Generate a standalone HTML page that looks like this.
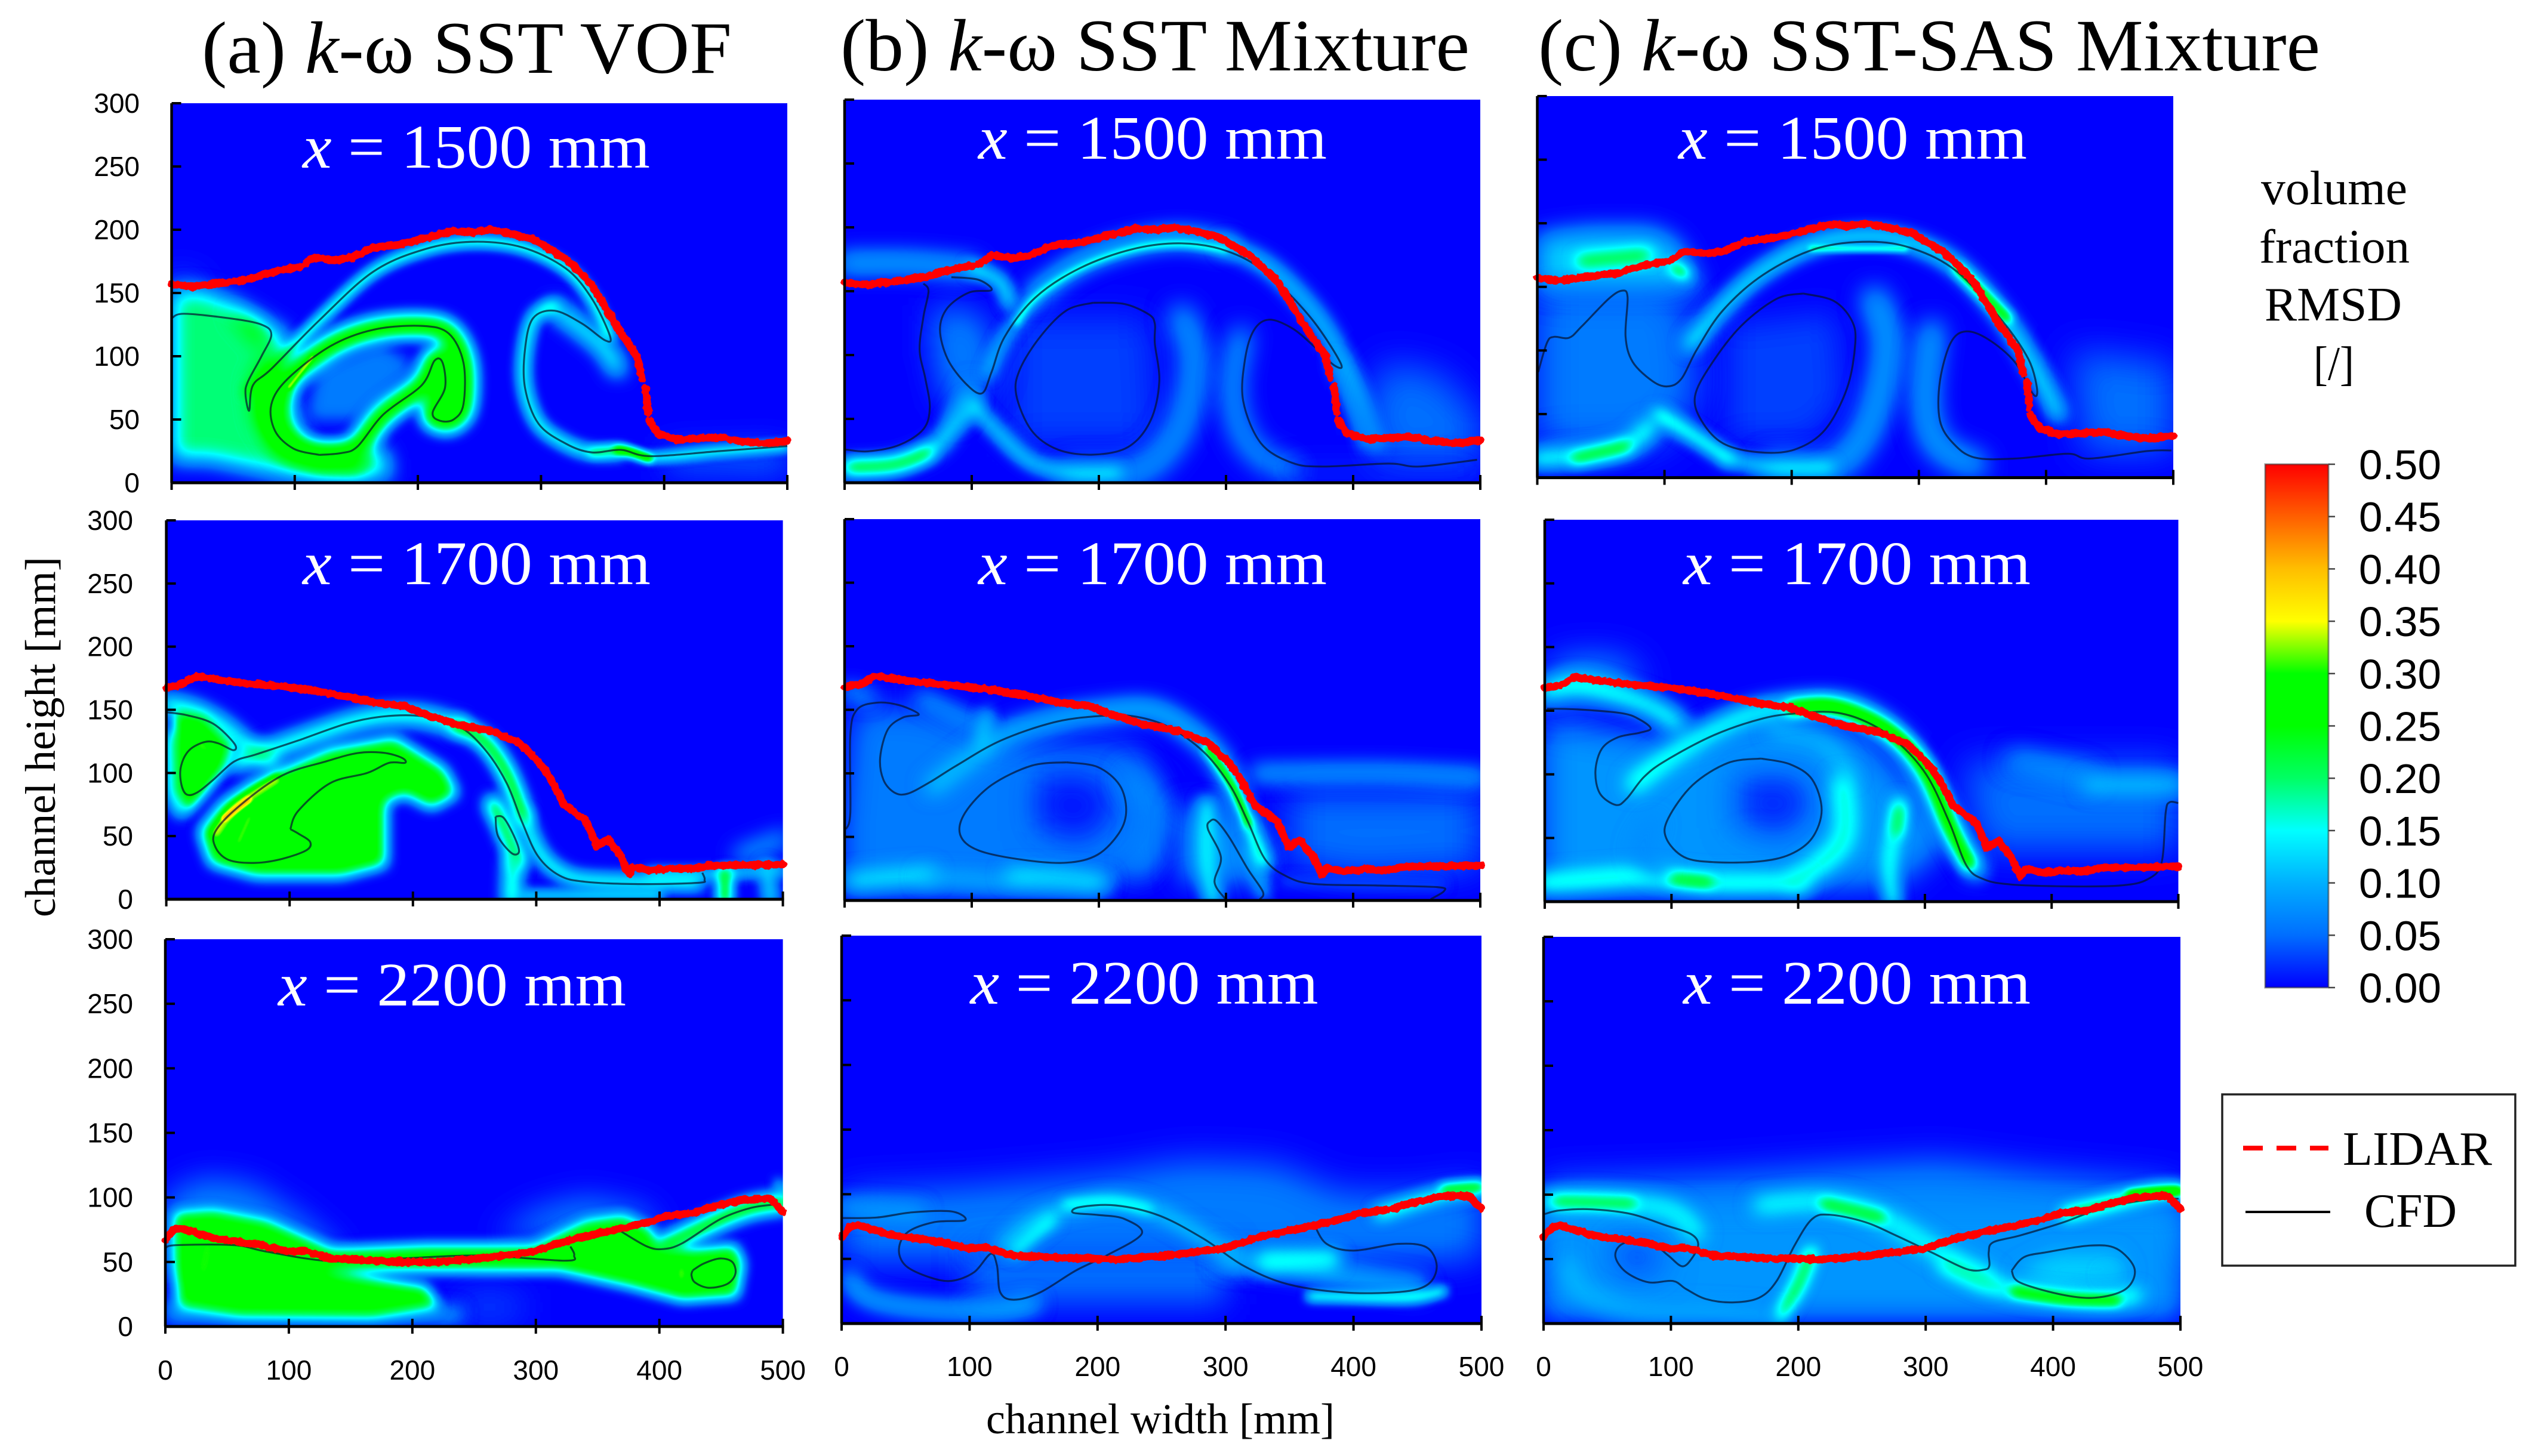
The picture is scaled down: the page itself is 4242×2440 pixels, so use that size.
<!DOCTYPE html>
<html lang="en">
<head>
<meta charset="utf-8">
<title>Volume fraction RMSD contours</title>
<style>
html,body{margin:0;padding:0;background:#fff}
svg{display:block}
.serif{font-family:"Liberation Serif","Noto Serif CJK SC",serif;fill:#000}
.sans{font-family:"Liberation Sans","Noto Sans CJK SC",sans-serif;fill:#000}
.ptitle{font-size:124px}
.plabel{font-size:104px;fill:#fff}
.tick{font-size:46px}
.cbt{font-size:70px}
.cbh{font-size:80px}
</style>
</head>
<body>
<svg id="chart" xmlns="http://www.w3.org/2000/svg" width="4242" height="2440" viewBox="0 0 4242 2440">
  <rect width="4242" height="2440" fill="#fff"/>
  <defs id="defs"></defs>
  <g id="panels"></g>

  <text class="serif ptitle" x="338" y="122" textLength="888" lengthAdjust="spacingAndGlyphs">(a) <tspan font-style="italic">k</tspan>-ω SST VOF</text>
  <text class="serif ptitle" x="1408" y="118" textLength="1054" lengthAdjust="spacingAndGlyphs">(b) <tspan font-style="italic">k</tspan>-ω SST Mixture</text>
  <text class="serif ptitle" x="2577" y="118" textLength="1310" lengthAdjust="spacingAndGlyphs">(c) <tspan font-style="italic">k</tspan>-ω SST-SAS Mixture</text>

  <text class="serif" font-size="72" transform="translate(92,1537) rotate(-90)" textLength="604" lengthAdjust="spacingAndGlyphs">channel height [mm]</text>
  <text class="serif" font-size="72" x="1652" y="2402" textLength="584" lengthAdjust="spacingAndGlyphs">channel width [mm]</text>

  <g>
    <text class="serif cbh" x="3788" y="342" textLength="245" lengthAdjust="spacingAndGlyphs">volume</text>
    <text class="serif cbh" x="3785" y="440" textLength="252" lengthAdjust="spacingAndGlyphs">fraction</text>
    <text class="serif cbh" x="3794" y="537" textLength="230" lengthAdjust="spacingAndGlyphs">RMSD</text>
    <text class="serif cbh" x="3876" y="636" textLength="68" lengthAdjust="spacingAndGlyphs">[/]</text>
  </g>
  <g id="colorbar"></g>

  <g>
    <rect x="3723" y="1834" width="491" height="287" fill="#fff" stroke="#222" stroke-width="3.5"/>
    <line x1="3758" y1="1924" x2="3901" y2="1924" stroke="#ff0000" stroke-width="8" stroke-dasharray="33 23"/>
    <text class="serif" font-size="80" x="3925" y="1952" textLength="250" lengthAdjust="spacingAndGlyphs">LIDAR</text>
    <line x1="3762" y1="2031" x2="3904" y2="2031" stroke="#000" stroke-width="4"/>
    <text class="serif" font-size="80" x="3961" y="2056" textLength="155" lengthAdjust="spacingAndGlyphs">CFD</text>
  </g>
</svg>

<script>
/* ---------- axis data ---------- */
const xTicks = [0,100,200,300,400,500];
const yTicks = [0,50,100,150,200,250,300];
const cbarTicks = ['0.00','0.05','0.10','0.15','0.20','0.25','0.30','0.35','0.40','0.45','0.50'];
const cbarR = [0,0,0,0,0,0,0,255,255,255,255];
const cbarG = [0,110,175,255,255,255,255,255,190,95,0];
const cbarB = [255,255,255,255,100,0,0,0,0,0,0];

/* ---------- LIDAR free-surface traces, [mm, mm] ---------- */
const lidar1500 = [
 [0,157,18,155,34,157,64,161,76,165,90,168,105,171,116,178,131,176,146,178,164,186,184,188,203,192.5,229,199,245,198,259,200,275,197,294,192.5,320,177,341,157,363,121,378,100,382,82],
 [385,75,387,55],
 [388,49,395,39,410,34,425,35,445,36,460,33,480,31,500,33]];
const lidar1700 = [
 [0,167.6,12,170,24,176.5,51,172.5,75,170,98.5,168,133,163,168,156,194,152.5,211,146,237,138,263,133.5,286.5,123.5,301.6,109,310,98,323,74.5,340.5,62,349,42,358,47.7,369,34,375,20,379,25.4,392,23,410,24.5,427,24,440,26.5,470,27,500,27.6]];
const lidar2200 = [
 [0,67,6.5,75,13,76,39,68.4,78,63,99,58,112,59,134,52.7,177,50.6,216,49.6,254.5,52.7,298,58,323.5,66,345,71,369,76,388,80,405.5,85.5,427,88,444,93,466,98,490,99,500,89]];

/* ---------- CFD interface contours, [mm, mm] ---------- */
const cfdA1500 = [
 [0,130,10,133.6,47,130,73,125,81,117,73,100,62,80,60,70,63,57,66,77,81,90,120,128.5,164,167,207,185,246,190.5,285,186,320,169.5,341,146,356,116,352,112.6,333,126,311,136,293.5,130,287,105.5,287,75,298,46.6,320,31,341,24,365,26,389,21,445,25,500,29],
 [120,22,99,27,84,41,81,62,94.5,82.4,129,108,164,121,203,124,225,118,237,95,237,62,229,50,218,49,212,55.5,222,75,220,95,213.5,96.5,203,77,172,54,151,28.7,138,23.5,120,22]];
const cfdA1700 = [
 [0,148,16.4,145.8,38,139,55,123.5,54.4,118,42,123.5,31.5,124.6,18.6,118,12,105.6,12,92,16.4,83,25,84.5,38,94.5,55,109,72.6,114.6,107,125.7,146,139,176,144.7,206.5,145,237,137,258,119,276,92,288.6,61,301.5,34,319,18.7,340,13.8,383.6,12,431,13,436.5,15.4,434.7,21],
 [100.6,55.5,107,70,133,92,163,100,180.6,108,193.5,108,191,112,176,116,155,115.7,129,109,94,98,60,74.5,40,54,40,41,51,31,72.6,28.8,94,32,113.6,38.8,116.6,45.5,107,52,100.6,55.5],
 [267,65.5,273.6,64.4,282,50,286,37.7,280,36.5,269,50,267,65.5]];
const cfdA2200 = [
 [0,60.6,8.6,63,56,63,82,58,134,50.6,190,52.7,254.5,55,323.5,51,331,55,328,62],
 [369,73.7,390,62,403,60,418.5,64.5,449,83,474.5,92,496,94.7],
 [427,43.5,436,48.8,449,52.7,459,50,461.6,41,455,33,440,30,429,34,426,39.6,427,43.5]];
const cfdB1500 = [
 [1,26,18.4,24.6,43,29.6,62,42,67,59,63.5,81.6,59,104,62,130,66,150,62,156],
 [84,161,105,159,115.6,151,98,149,81,137,75,120,81,97,95,78,108,70,115.6,86.7,126,114.5,150,145,185,168,226.7,183,265,187.5,300,181.7,331,165,366,130,390,94,385,92,369,107,352,121,334,127.7,322,119.6,315,96.8,313.5,64,327.4,31,351.7,15.7,376,12.7,428,15,452,12.7,497.5,18],
 [195.5,141,220,140,239,132,244,124.7,244,109.5,247.5,79,240.6,48.6,223,28,195.5,22,167.7,26,147,41,135,69,138,89,154,114.5,174.6,135,195.5,141]];
const cfdB1700 = [
 [1,56,4.5,69,4.5,130,9.7,150,25,155.6,42.7,153.7,58.3,146.5,46,144,34,134.5,28,112.6,30.5,95,39,85,49.6,84,67,93,87.8,106,122.6,125.7,164,140,199,145,226.7,145,254.5,136.7,282.3,117,303,90.8,317,62.4,331,32,348,18.8,369,13,417.7,11.8,466,10.5,471.5,7.4,461,1],
 [174.6,108.7,199,105,216.3,90.8,221.5,71,216.3,53.7,199,36,174.6,29.7,140,32,105,39.5,91,51.5,94.8,69,115.6,90.8,147,106,174.6,108.7],
 [299.6,1,291,14.4,296,34,285.8,56,287.5,62.4,292.7,62.4,303,49,317,25,329,6.8,326.6,1]];
const cfdB2200 = [
 [0,81.6,27.6,82,55,86,86,86.7,96.5,80,72.4,78.4,51.7,70.7,44.8,57.7,50,44.8,69,35.7,86,33,103.4,39.6,116.5,53.9,121.4,44.8,124,24,134.5,18.4,155,24,183,41,207,52.6,234.5,69.4,220.7,81,200,84,181,85.7,186,90,213.8,91.4,248,83.6,283,65.5,313.8,44.8,348,30.6,393,24,438,24.6,458.6,30.6,465,44.8,457,59,434.8,61.6,400,56.4,379,61.6,369.6,75.9]];
const cfdC1500 = [
 [0.7,83,7.6,106,13,110.7,25,110,35,119,56,140.5,66.6,147,71,141.8,69.4,111,75,91,91,75.6,103,71.8,113.5,78,125.6,101,146,131.6,177.7,159.6,219,180,261,185.5,295.6,180,330,162,365,124,386,93.4,392.8,70.5,390,65.4,375.4,90.9,354.6,108.7,337,115,325,106,316.5,75.6,316.5,45,327,27,344,15.8,375.4,15,417,18.8,434.4,15,479.6,20.9,498.6,21.4],
 [209,144.8,233,139,247,124,250,106,243.6,70.5,226,37.4,202,22,174,20,146,27,129,45,124,64,136,88,160,119,188,140.5,209,144.8]];
const cfdC1700 = [
 [1.7,151.6,26,151,61,148,75,143,83.6,136,75,132.7,57.5,129,45,120,40,102.5,43.5,85,56,76,64.5,80.7,78.4,98,95.8,111,134,131,172.5,144,200,148,228,148.8,252.6,141.8,277,126.6,301,100,319,63,333,28,346.7,17.5,367.6,13.5,413,12,454.6,12.7,475.6,17.5,486.7,30.5,490,70,493,78,500,77.5],
 [170.7,112.4,193.4,108,211,96,218.5,72,211,50,193.4,37,169,31.6,134,31,110,35,95.8,50,97.5,65.5,116.7,91.6,144.6,109,170.7,112.4]];
const cfdC2200 = [
 [1,85,13,87.8,37.4,88.6,68.6,85,96.4,76,115.4,69.6,121.4,61.8,117,51.4,109,44.4,98,52.7,86,61.8,72,64.4,60,60.5,56.5,51.4,65,39.7,82.5,32,101.6,33,112,26.7,127.6,19,148.4,16.4,169.2,20,183,33,197,60.5,210.8,81,224.7,84.4,252.4,78.7,276.7,68.3,304.4,55.3,332,42.3,346,41.8,350,45,349.5,55.3,353,63,374,68.3,408.6,78.7,436.3,89,460.4,94,484.7,96.9,498.6,96.9],
 [367.5,41,377,51.4,394.6,55.3,429,60.5,450,58,464,42.3,457,26.7,432.7,20,405,22.8,373.7,32,367.5,41]];

/* ---------- RMSD field features: [value, ridge thickness mm (0 = area), spread mm, [mm, mm, ...]] ---------- */
const fieldA1500 = [
 [.05,0,6,[400,25,500,28,500,8,400,10]],
 [.07,0,6,[0,165,15,160,30,150,0,150]],
 [.195,0,4,[0,152,25,152,52,142,92,118,96,92,95,60,108,32,135,18,165,30,176,18,176,4,100,4,60,12,30,18,0,18]],
 [.27,0,3.5,[46,136,72,124,76,100,64,78,68,50,85,24,120,8,155,6,160,24,110,25,92,45,94,72,86,92]],
 [.06,0,3,[110,50,150,50,198,92,170,110,120,92]],
 [.27,18,2.6,[120,22,99,27,84,41,81,62,94.5,82.4,129,108,164,121,203,124,225,118,237,95,237,62,229,50,218,49,212,55.5,222,75,220,95,213.5,96.5,203,77,172,54,151,28.7,138,23.5,120,22]],
 [.17,6,2,[62,72,81,90,120,128.5,164,167,207,185,246,190.5,285,186,320,169.5,341,146,356,116]],
 [.14,10,3.5,[311,138,333,122,352,106,362,90]],
 [.16,6,2.4,[311,140,295,132,287,105,287,75,298,46.6,320,31,341,24,365,24]],
 [.15,5,1.8,[341,24,365,26,389,20,445,25,500,29]],
 [.25,5,1.3,[362,26,375,24,388,19]],
 [.32,2.5,.7,[95,75,115,100]]
];
const fieldA1700 = [
 [.15,12,3,[0,155,22,150,45,138,65,122,85,110]],
 [.14,6,2.5,[4,130,5,85,12,68]],
 [.27,0,2.2,[7,150,30,145,54,122,48,104,30,82,17,68,7,85,6,120]],
 [.29,6,1.6,[25,125,33,118]],
 [.16,12,3,[55,109,72,114,107,126,146,139,176,145,206,145,237,137]],
 [.27,0,2.6,[72.6,94,133,119,185,128,226,103,236,83,215,72,193.5,83,178,77,178,27,142,18,72.6,18,36,28,27,54,45,76]],
 [.33,7,1.2,[40,52,55,72,75,86,90,95]],
 [.37,3.5,.8,[47,64,67,79]],
 [.2,3,1.1,[58,44,68,66]],
 [.22,11,2.6,[237,137,258,125,276,100,290,65]],
 [.15,9,2.6,[290,65,302,38,319,22,345,15,431,13]],
 [.2,13,2.6,[265,75,275,55,285,30]],
 [.16,14,2.6,[281,30,280,0]],
 [.13,6,2,[290,3,400,3]],
 [.12,6,2.2,[392,20,436,20,500,23]],
 [.08,10,4,[465,35,500,48]],
 [.21,12,2,[453,20,453,0]],
 [.11,12,2.2,[487,25,490,0]]
];
const fieldA2200 = [
 [.06,0,6,[0,100,30,115,70,110,110,85,140,60,140,40,0,40]],
 [.06,0,6,[265,70,300,90,340,100,390,90,400,70]],
 [.05,0,7,[235,22,290,22,290,8,235,8]],
 [.08,0,3,[0,20,240,15,240,3,0,3]],
 [.265,0,2.4,[7,88,39,90,82,82,134,60,211,63,298,63,341,82,371,86,392.6,76,401,62,427,60,461.6,63,468,49,463,23,418.5,20,375,31,319,43,125,43.5,211,31,222,15,168,7,60,8,11,15,7,49]],
 [.22,14,2.6,[405,63,449,83,474,92,500,96]],
 [.11,4,2,[496,112,500,104]],
 [.295,16,3,[30,40,35,65]],
 [.295,7,2,[418,36,418,46]],
 [.17,7,2.5,[446,42,448,42]]
];
const fieldB1500 = [
 [.03,0,7,[130,130,240,130,245,30,130,30]],
 [.06,0,6,[70,140,110,130,118,90,100,60,80,60,70,100]],
 [.09,14,4,[0,172,50,172,100,168]],
 [.13,7,2.5,[100,168,122,158,130,140]],
 [.1,5,2.5,[112,85,126,114,150,145]],
 [.1,14,3.5,[150,148,185,172,227,187,265,192,300,186]],
 [.15,4,1.2,[135,125,150,145,185,168,227,183,265,187,300,182]],
 [.11,10,3,[300,186,335,168,370,132,392,95,408,60,420,30]],
 [.08,8,2.6,[385,95,400,60,410,30]],
 [.08,18,4.5,[265,130,275,100,270,60,255,28,228,8,178,6]],
 [.12,7,2.6,[100,62,122,38,147,16,178,8,215,8]],
 [.13,10,3,[0,12,40,15,70,27,88,48,100,62]],
 [.175,8,2.5,[4,12,40,14,66,24]],
 [.08,10,3.5,[88,50,100,75]],
 [.08,14,4.5,[312,115,305,75,312,40,328,20,352,10]],
 [.05,0,7,[425,95,470,85,500,50,500,15,420,15,410,60]],
 [.03,0,5,[350,12,500,12,500,5,350,5]]
];
const fieldB1700 = [
 [.06,0,6,[8,150,60,150,100,135,120,125,230,120,250,80,240,20,120,8,0,8,0,60]],
 [.01,0,6,[150,100,200,100,215,70,190,45,150,55]],
 [.08,8,3.5,[0,165,20,160]],
 [.08,8,3.5,[60,160,110,135]],
 [.1,8,2.6,[112,147,108,121]],
 [.1,14,3.5,[70,90,122,128,164,142,199,148,240,150,270,135,295,110,315,65,330,30]],
 [.07,18,4.5,[227,95,244,69,234,30]],
 [.12,12,3.5,[5,15,35,18,66,20]],
 [.09,10,3.5,[63,18,130,14,200,10]],
 [.11,8,3.5,[130,20,171,19,205,15]],
 [.08,0,5,[265,75,310,65,325,15,265,15]],
 [.13,12,2.6,[285,75,285,30,290,0]],
 [.1,7,2.6,[318,40,330,5]],
 [.23,5,1.4,[285,120,305,90,318,60]],
 [.15,6,2,[318,60,330,30]],
 [.05,0,7,[350,85,500,85,500,25,400,20,350,30]],
 [.08,12,3.5,[325,100,420,101,500,97]],
 [.04,6,2.2,[345,15,470,12]]
];
const fieldB2200 = [
 [.06,0,7,[0,100,100,105,210,115,270,125,340,122,390,100,450,100,500,108,500,50,0,50]],
 [.05,0,6,[100,60,300,60,300,15,100,15]],
 [.08,10,3.5,[0,90,60,86]],
 [.1,8,3.5,[5,35,20,20,60,12,120,10,150,15]],
 [.1,10,3,[125,60,150,80,180,90,215,95,250,85,285,65,310,50]],
 [.13,6,2,[175,92,210,94,240,88]],
 [.13,7,2.6,[135,55,152,70,165,80]],
 [.09,16,3.5,[300,50,350,45,400,35,450,28]],
 [.145,14,3,[331,48,383,50]],
 [.15,6,1.8,[366,21,440,20,470,25]],
 [.15,8,2.6,[420,85,470,100,500,104]],
 [.18,5,1.8,[470,104,500,106]]
];
const fieldC1500 = [
 [.06,0,8,[0,150,115,150,125,60,90,25,0,25]],
 [.03,0,6,[150,120,235,130,240,60,215,30,150,30]],
 [.12,0,4.5,[0,190,40,195,90,195,110,185,120,165,130,150,100,150,60,150,0,150]],
 [.175,10,2.6,[35,170,85,175]],
 [.18,8,2.2,[108,165,116,160]],
 [.13,10,3,[120,105,146,135,178,163,219,184,261,190,296,184,330,166,365,128,392,85,410,50]],
 [.21,6,1.7,[330,165,370,125]],
 [.16,3,1,[215,180,290,180]],
 [.09,18,4.5,[265,140,275,110,270,70,255,30,230,8,185,8]],
 [.12,7,2.6,[150,15,185,8,230,8]],
 [.16,8,2.6,[95,50,120,35,150,15]],
 [.14,14,3,[0,15,40,18,70,25,88,40]],
 [.175,8,2.2,[30,15,70,25]],
 [.09,16,4.5,[310,115,305,60,315,25,345,10]],
 [.05,0,7,[420,100,500,90,500,20,430,20]]
];
const fieldC1700 = [
 [.08,0,6,[0,140,100,125,170,145,250,130,320,50,280,15,120,8,0,8]],
 [.02,0,6,[150,102,205,102,215,70,190,48,150,58]],
 [.08,0,7,[10,190,60,190,80,170,0,155]],
 [.15,12,3.5,[0,165,30,170,80,155,105,140]],
 [.09,8,3.5,[180,135,220,125,240,100]],
 [.145,12,3.5,[70,92,96,112,134,135,172,150,228,155,265,140,290,115,310,80,325,50,340,25]],
 [.25,9,2.2,[195,152,228,153,270,135,300,105,320,60,335,30]],
 [.15,16,3.5,[235,92,235,48,200,17]],
 [.15,16,3,[0,15,40,18,80,20,130,15,200,15]],
 [.165,6,2.2,[100,18,130,15]],
 [.07,14,3.5,[85,60,75,40,90,25]],
 [.14,10,2.6,[280,78,272,30,275,0]],
 [.16,8,2.2,[280,72,278,55]],
 [.05,0,7,[330,110,500,110,500,40,345,40]],
 [.08,10,4.5,[370,112,430,98]],
 [.1,12,3.5,[430,92,500,92]]
];
const fieldC2200 = [
 [.07,0,7,[0,108,120,112,230,120,310,125,390,115,500,105,500,50,0,50]],
 [.08,0,5,[0,90,500,90,500,5,0,5]],
 [.03,0,6,[50,65,90,65,95,40,60,35]],
 [.13,12,3.5,[0,95,50,95,100,88,120,70]],
 [.165,7,2.2,[10,95,70,93]],
 [.13,12,3.5,[170,92,220,95,260,85,295,65,320,50,350,35]],
 [.175,7,2.2,[220,93,265,82]],
 [.18,8,2.6,[210,55,200,30,185,5]],
 [.09,12,3.5,[20,45,30,25,70,10,130,8,180,5]],
 [.12,0,3.5,[370,40,400,55,450,55,460,40,450,30,400,28]],
 [.08,6,2.6,[440,38,445,38]],
 [.14,10,3,[315,45,350,30,390,22,440,18,465,22]],
 [.2,6,1.8,[370,25,410,19,450,18]],
 [.18,8,2.6,[410,85,450,95,480,102,500,103]],
 [.25,4,1.4,[460,100,500,103]]
];

/* ---------- layout: which data goes in which panel, and where ---------- */
const panels = [
 {key:'a-1500',col:0,row:0,box:[287.5,1319,173,809],label:'1500',lx:[507,582],ly:281,lidar:lidar1500,cfd:cfdA1500,field:fieldA1500},
 {key:'a-1700',col:0,row:1,box:[278.6,1311.6,872,1507],label:'1700',lx:[507,583],ly:979,lidar:lidar1700,cfd:cfdA1700,field:fieldA1700},
 {key:'a-2200',col:0,row:2,box:[277,1311.6,1574,2223],label:'2200',lx:[466,583],ly:1685,lidar:lidar2200,cfd:cfdA2200,field:fieldA2200},
 {key:'b-1500',col:1,row:0,box:[1415,2480,167,809],label:'1500',lx:[1639,584],ly:266,lidar:lidar1500,cfd:cfdB1500,field:fieldB1500},
 {key:'b-1700',col:1,row:1,box:[1415,2480,870,1509],label:'1700',lx:[1639,584],ly:979,lidar:lidar1700,cfd:cfdB1700,field:fieldB1700},
 {key:'b-2200',col:1,row:2,box:[1410,2482,1568,2218],label:'2200',lx:[1625.5,583],ly:1682,lidar:lidar2200,cfd:cfdB2200,field:fieldB2200},
 {key:'c-1500',col:2,row:0,box:[2575.5,3641,161,800.5],label:'1500',lx:[2812,584],ly:266,lidar:lidar1500,cfd:cfdC1500,field:fieldC1500},
 {key:'c-1700',col:2,row:1,box:[2588,3649.5,871,1511],label:'1700',lx:[2820,582],ly:979,lidar:lidar1700,cfd:cfdC1700,field:fieldC1700},
 {key:'c-2200',col:2,row:2,box:[2586,3653,1570,2218],label:'2200',lx:[2820,582],ly:1682,lidar:lidar2200,cfd:cfdC2200,field:fieldC2200}
];
const yLabelRight = [234,223,223];
const xLabelBase = [2312,2306,2306];
const spreadGain = 2.1;

/* ---------- helpers ---------- */
const NS = 'http://www.w3.org/2000/svg';
const defs = document.getElementById('defs');
const root = document.getElementById('panels');
function mk(tag, attrs, parent){
  const el = document.createElementNS(NS, tag);
  for (const k in attrs) el.setAttribute(k, attrs[k]);
  if (parent) parent.appendChild(el);
  return el;
}
function pairs(flat, X, Y){
  const out = [];
  for (let i = 0; i < flat.length; i += 2) out.push([X(flat[i]), Y(flat[i+1])]);
  return out;
}
function linePath(pts){
  return pts.map((p,i)=>(i?'L':'M')+p[0].toFixed(1)+' '+p[1].toFixed(1)).join('');
}
function smoothPath(pts){
  let d = 'M'+pts[0][0].toFixed(1)+' '+pts[0][1].toFixed(1);
  for (let i = 0; i < pts.length-1; i++){
    const p0 = pts[Math.max(i-1,0)], p1 = pts[i], p2 = pts[i+1], p3 = pts[Math.min(i+2,pts.length-1)];
    const c1x = p1[0]+(p2[0]-p0[0])/6, c1y = p1[1]+(p2[1]-p0[1])/6;
    const c2x = p2[0]-(p3[0]-p1[0])/6, c2y = p2[1]-(p3[1]-p1[1])/6;
    d += 'C'+c1x.toFixed(1)+' '+c1y.toFixed(1)+' '+c2x.toFixed(1)+' '+c2y.toFixed(1)+' '+p2[0].toFixed(1)+' '+p2[1].toFixed(1);
  }
  return d;
}
function gray(v){
  const g = Math.max(0, Math.min(255, Math.round(v/0.5*255)));
  return 'rgb('+g+','+g+','+g+')';
}
function table(arr){ return arr.map(c=>(c/255).toFixed(3)).join(' '); }
/* peak coverage of a blurred ridge, so the painted value can compensate and keep the ridge value */
function coverage(thick, sigma){
  const x = thick/(2*Math.SQRT2*sigma);
  return Math.sqrt(1-Math.exp(-4*x*x/Math.PI));
}
/* value to paint so the blurred ridge peaks at its value over the field already beneath it */
function paintFor(value, thick, sigma){
  const a = coverage(thick, sigma);
  const under = value > 0.26 ? 0.23 : 0.06;
  return Math.max(value, (value - under*(1-a))/a);
}

/* ---------- panels ---------- */
panels.forEach(function(panel){
  const [x0,x1,y0,y1] = panel.box;
  const X = v => x0 + (v/500)*(x1-x0);
  const Y = v => y1 - (v/300)*(y1-y0);
  const pxPerMm = (x1-x0)/500;
  const group = mk('g', {}, root);
  
  

  /* colour mapping filter: scalar gray to the RMSD colour scale */
  const jetId = 'jet-'+panel.key;
  const jet = mk('filter', {id:jetId, filterUnits:'userSpaceOnUse', x:x0, y:y0, width:x1-x0, height:y1-y0, 'color-interpolation-filters':'sRGB'}, defs);
  const ct = mk('feComponentTransfer', {}, jet);
  mk('feFuncR', {type:'table', tableValues:table(cbarR)}, ct);
  mk('feFuncG', {type:'table', tableValues:table(cbarG)}, ct);
  mk('feFuncB', {type:'table', tableValues:table(cbarB)}, ct);

  const heat = mk('g', {filter:'url(#'+jetId+')'}, group);
  
  
  const base = mk('rect', {x:x0, y:y0, width:x1-x0, height:y1-y0, fill:'#000'}, heat);
  
  

  const blurIds = {};
  panel.field.forEach(function(item){
    const [value, thick, spread, coords] = item;
    const sigma = spread*spreadGain;
    const key = 'b-'+panel.key+'-'+String(spread).replace('.','_');
    if (!blurIds[key]){
      blurIds[key] = true;
      const f = mk('filter', {id:key, filterUnits:'userSpaceOnUse', x:x0-130, y:y0-130, width:x1-x0+260, height:y1-y0+260, 'color-interpolation-filters':'sRGB'}, defs);
      mk('feGaussianBlur', {stdDeviation:(sigma*pxPerMm).toFixed(2)}, f);
    }
    const pts = pairs(coords, X, Y);
    let layer;
    if (thick > 0){
      layer = mk('path', {d:smoothPath(pts), fill:'none', stroke:gray(paintFor(value, thick, sigma)), 'stroke-width':(thick*pxPerMm).toFixed(1), 'stroke-linecap':'round', 'stroke-linejoin':'round', filter:'url(#'+key+')'}, heat);
    } else {
      layer = mk('path', {d:linePath(pts)+'Z', fill:gray(value), filter:'url(#'+key+')'}, heat);
    }
    
    
  });

  /* CFD contours */
  panel.cfd.forEach(function(coords){
    const c = mk('path', {d:smoothPath(pairs(coords, X, Y)), fill:'none', stroke:'#06122e', 'stroke-opacity':'0.7', 'stroke-width':'3.2', 'stroke-linejoin':'round'}, group);
    
    
  });

  /* LIDAR: slightly rough edge as in the sampled trace */
  const roughId = 'rough-'+panel.key;
  const rough = mk('filter', {id:roughId, filterUnits:'userSpaceOnUse', x:x0-30, y:y0-30, width:x1-x0+60, height:y1-y0+60, 'color-interpolation-filters':'sRGB'}, defs);
  mk('feTurbulence', {type:'fractalNoise', baseFrequency:'0.11', numOctaves:'2', seed:'4', result:'n'}, rough);
  mk('feDisplacementMap', {in:'SourceGraphic', in2:'n', scale:'7', xChannelSelector:'R', yChannelSelector:'G'}, rough);
  const lidarGroup = mk('g', {filter:'url(#'+roughId+')'}, group);
  
  
  panel.lidar.forEach(function(coords){
    const l = mk('path', {d:linePath(pairs(coords, X, Y)), fill:'none', stroke:'#ff0000', 'stroke-width':'13', 'stroke-linejoin':'round', 'stroke-linecap':'round'}, lidarGroup);
    
    
  });

  /* Axes */
  const spineY = mk('line', {x1:x0, y1:y0, x2:x0, y2:y1, stroke:'#000', 'stroke-width':'4.5'}, group);
  
  
  const spineX = mk('line', {x1:x0-2, y1:y1, x2:x1+2, y2:y1, stroke:'#000', 'stroke-width':'5'}, group);
  
  

  yTicks.forEach(function(t){
    const tk = mk('line', {x1:x0, y1:Y(t), x2:x0+16, y2:Y(t), stroke:'#000', 'stroke-width':'4'}, group);
    
    
    if (panel.col === 0){
      const lb = mk('text', {x:yLabelRight[panel.row], y:Y(t)+16, 'text-anchor':'end', class:'sans tick'}, group);
      lb.textContent = String(t);
      
      
    }
  });
  xTicks.forEach(function(t){
    const tk = mk('line', {x1:X(t), y1:y1-13, x2:X(t), y2:y1+12, stroke:'#000', 'stroke-width':'4'}, group);
    
    
    if (panel.row === 2){
      const lb = mk('text', {x:X(t), y:xLabelBase[panel.col], 'text-anchor':'middle', class:'sans tick'}, group);
      lb.textContent = String(t);
      
      
    }
  });

  /* Station label */
  const lab = mk('text', {x:panel.lx[0], y:panel.ly, class:'serif plabel', textLength:panel.lx[1], lengthAdjust:'spacingAndGlyphs'}, group);
  
  
  const ital = mk('tspan', {'font-style':'italic'}, lab);
  ital.textContent = 'x';
  lab.appendChild(document.createTextNode(' = '+panel.label+' mm'));
});

/* ---------- colorbar ---------- */
(function(){
  const cb = document.getElementById('colorbar');
  const top = 778, bottom = 1655, left = 3795, right = 3901;
  const grad = mk('linearGradient', {id:'cbar-grad', x1:'0', y1:'1', x2:'0', y2:'0'}, defs);
  cbarTicks.forEach(function(t,i){
    mk('stop', {offset:(i/(cbarTicks.length-1)), 'stop-color':'rgb('+cbarR[i]+','+cbarG[i]+','+cbarB[i]+')'}, grad);
  });
  const bar = mk('rect', {x:left, y:top, width:right-left, height:bottom-top, fill:'url(#cbar-grad)', stroke:'#333', 'stroke-opacity':'0.55', 'stroke-width':'3'}, cb);
  
  
  cbarTicks.forEach(function(t,i){
    const y = bottom - (Number(t)/0.5)*(bottom-top);
    const tk = mk('line', {x1:right, y1:y, x2:3912, y2:y, stroke:'#444', 'stroke-width':'2.5'}, cb);
    
    
    const lb = mk('text', {x:3952, y:y+25, class:'sans cbt', textLength:138, lengthAdjust:'spacingAndGlyphs'}, cb);
    lb.textContent = t;
    
    
  });
})();
</script>
</body>
</html>
